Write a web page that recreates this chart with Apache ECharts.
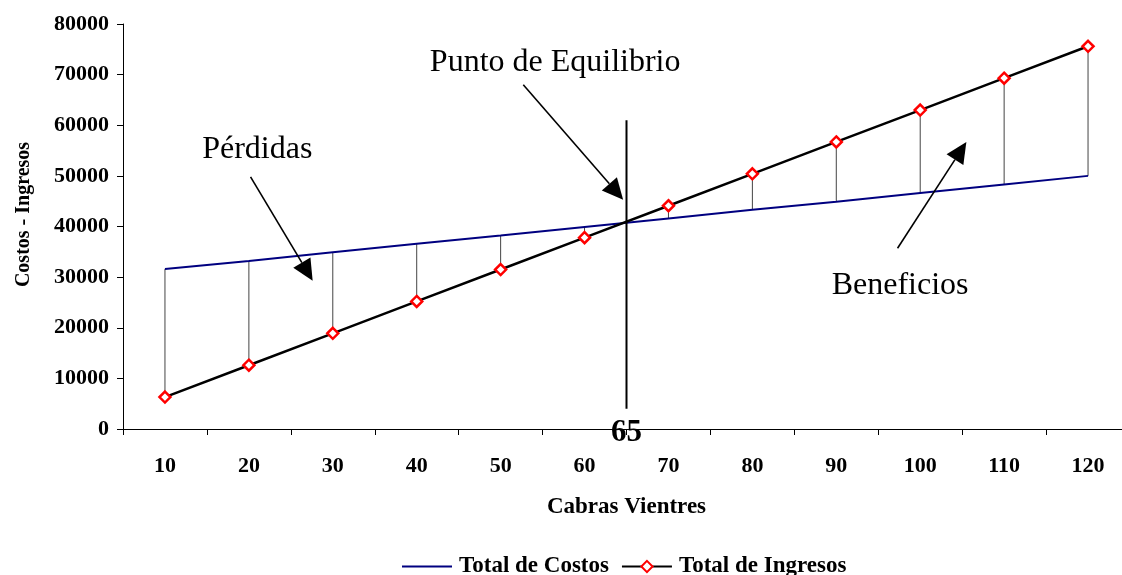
<!DOCTYPE html>
<html><head><meta charset="utf-8">
<script src="https://cdn.jsdelivr.net/npm/echarts@6/dist/echarts.min.js"></script>
<style>html,body{margin:0;padding:0;background:#fff}#c{width:1122px;height:575px}</style>
</head><body><div id="c"></div>
<script>
const categories = ['10','20','30','40','50','60','70','80','90','100','110','120'];
const totalCostos = [31600, 33200, 34900, 36600, 38200, 39900, 41600, 43300, 44900, 46600, 48300, 50000];
const totalIngresos = [6300, 12600, 18900, 25200, 31500, 37800, 44100, 50400, 56700, 63000, 69300, 75600];
const yTicks = [0, 10000, 20000, 30000, 40000, 50000, 60000, 70000, 80000];
const breakEven = 65;
const breakEvenLabel = '65';
// annotations in data space (x: goats, y: value)
const annotations = [
  {text: 'Punto de Equilibrio', tx: 56.5, ty: 72300, from: [52.7, 68000], to: [64.6, 45300]},
  {text: 'Pérdidas', tx: 21.0, ty: 55100, from: [20.2, 49800], to: [27.6, 29300]},
  {text: 'Beneficios', tx: 97.6, ty: 28400, from: [97.3, 35700], to: [105.5, 56700]}
];

const FONT = '"Liberation Serif", "Times New Roman", serif';
const chart = echarts.init(document.getElementById('c'));

function arrow(p0, p1) {
  const dx = p1[0]-p0[0], dy = p1[1]-p0[1];
  const len = Math.sqrt(dx*dx+dy*dy);
  const ux = dx/len, uy = dy/len;
  const hl = 21, hw = 10;
  const bx = p1[0]-ux*hl, by = p1[1]-uy*hl;
  return [
    {type:'line', shape:{x1:p0[0], y1:p0[1], x2:bx, y2:by}, style:{stroke:'#000', lineWidth:1.6}},
    {type:'polygon', shape:{points:[[p1[0],p1[1]],[bx-uy*hw, by+ux*hw],[bx+uy*hw, by-ux*hw]]}, style:{fill:'#000'}}
  ];
}

chart.setOption({
  animation: false,
  textStyle: {fontFamily: FONT},
  grid: {left: 123, right: -8, top: 24, bottom: 146, containLabel: false, outerBoundsMode: 'none'},
  legend: {
    bottom: -8, left: 396, itemWidth: 50, itemHeight: 14, itemGap: 12,
    textStyle: {fontFamily: FONT, fontWeight: 'bold', fontSize: 23, color: '#000', padding: [0, 0, 0, 2]},
    data: [{name: 'Total de Costos', itemStyle: {opacity: 0}}, {name: 'Total de Ingresos'}]
  },
  xAxis: [{
    type: 'category', data: categories, boundaryGap: true,
    name: 'Cabras Vientres', nameLocation: 'middle', nameGap: 67,
    nameTextStyle: {fontFamily: FONT, fontWeight: 'bold', fontSize: 23, color: '#000'},
    axisLine: {lineStyle: {color: '#000', width: 1}},
    axisTick: {show: true, length: 6, interval: 0, lineStyle: {color: '#000'}},
    axisLabel: {fontFamily: FONT, fontWeight: 'bold', fontSize: 22, color: '#000', margin: 26, interval: 0},
    splitLine: {show: false}
  }, {
    type: 'value', min: 5, max: 125, show: false
  }],
  yAxis: {
    type: 'value', min: 0, max: 80000, interval: 10000,
    name: 'Costos - Ingresos', nameLocation: 'middle', nameGap: 89, nameRotate: 90,
    nameTextStyle: {fontFamily: FONT, fontWeight: 'bold', fontSize: 20, color: '#000', padding: [0, 0, 0, 24]},
    axisLine: {show: true, lineStyle: {color: '#000', width: 1}},
    axisTick: {show: true, length: 6, inside: false, lineStyle: {color: '#000'}},
    axisLabel: {fontFamily: FONT, fontWeight: 'bold', fontSize: 22, color: '#000', margin: 14,
      formatter: v => yTicks.includes(v) ? String(v) : ''},
    splitLine: {show: false}
  },
  series: [
    {
      type: 'custom', name: 'drops', xAxisIndex: 0, silent: true, z: 1,
      data: categories.map((c, i) => [i, totalCostos[i], totalIngresos[i]]),
      encode: {x: 0, y: [1, 2]},
      renderItem: (params, api) => {
        const a = api.coord([api.value(0), api.value(1)]);
        const b = api.coord([api.value(0), api.value(2)]);
        return {type: 'line', shape: {x1: a[0], y1: a[1], x2: b[0], y2: b[1]}, style: {stroke: '#444', lineWidth: 1}};
      }
    },
    {
      name: 'Total de Costos', type: 'line', data: totalCostos, symbol: 'none', z: 3,
      lineStyle: {color: '#000080', width: 2}, itemStyle: {color: '#000080'}
    },
    {
      name: 'Total de Ingresos', type: 'line', data: totalIngresos, z: 4,
      symbol: 'diamond', symbolSize: 11, showAllSymbol: true,
      lineStyle: {color: '#000', width: 2.5},
      itemStyle: {color: '#fff', borderColor: '#ff0000', borderWidth: 2.5}
    },
    {
      type: 'custom', name: 'breakeven', xAxisIndex: 1, silent: true, z: 5, clip: false,
      data: [[breakEven, 61000, 4000, -700]],
      renderItem: (params, api) => {
        const a = api.coord([api.value(0), api.value(1)]);
        const b = api.coord([api.value(0), api.value(2)]);
        const t = api.coord([api.value(0), api.value(3)]);
        return {type: 'group', children: [
          {type: 'line', shape: {x1: a[0], y1: a[1], x2: b[0], y2: b[1]}, style: {stroke: '#000', lineWidth: 2}},
          {type: 'text', x: t[0], y: t[1], style: {text: breakEvenLabel, fontFamily: FONT, fontWeight: 'bold', fontSize: 31, fill: '#000', align: 'center', verticalAlign: 'middle'}}
        ]};
      }
    },
    {
      type: 'custom', name: 'notes', xAxisIndex: 1, silent: true, z: 6, clip: false,
      data: annotations.map((a, i) => [a.tx, a.ty, i]),
      renderItem: (params, api) => {
        const an = annotations[params.dataIndex];
        const t = api.coord([an.tx, an.ty]);
        const p0 = api.coord(an.from);
        const p1 = api.coord(an.to);
        return {type: 'group', children: [
          {type: 'text', x: t[0], y: t[1], style: {text: an.text, fontFamily: FONT, fontSize: 32, fill: '#000', align: 'center', verticalAlign: 'middle'}}
        ].concat(arrow(p0, p1))};
      }
    }
  ]
});
</script></body></html>
